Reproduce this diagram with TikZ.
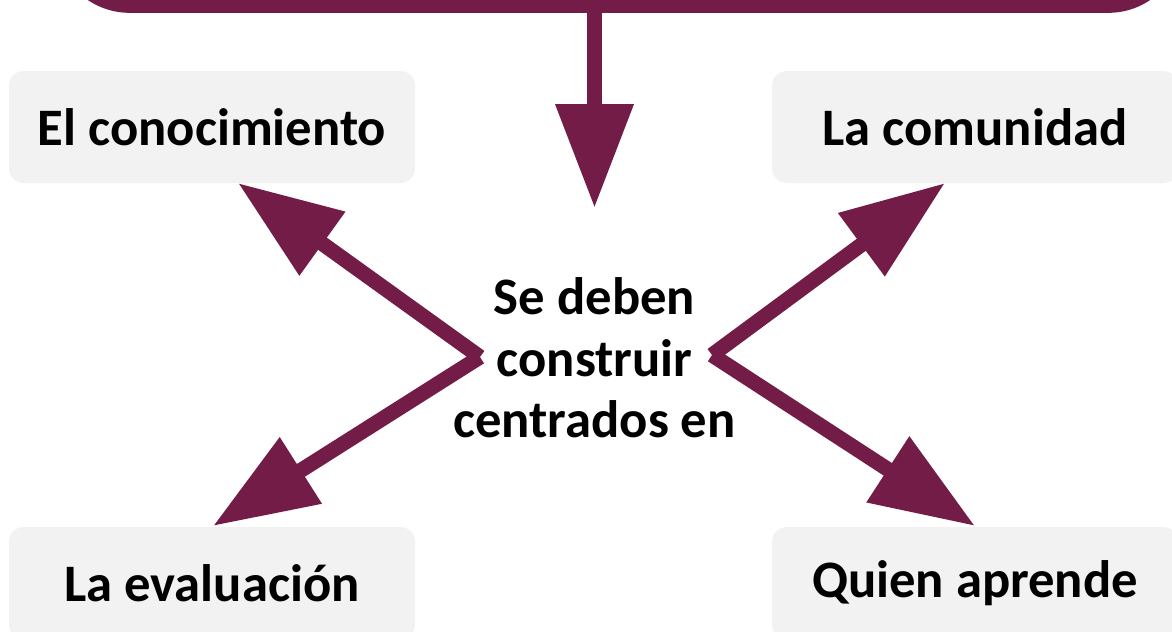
\documentclass[tikz,border=0pt]{standalone}
\usepackage{fontspec}
\setmainfont{Carlito}
\usetikzlibrary{arrows.meta}
\definecolor{maroon}{HTML}{731C47}
\definecolor{boxgray}{HTML}{F2F2F2}
\tikzset{
  lbl/.style={font=\fontsize{39.5}{46}\selectfont\bfseries, text=black},
  graybox/.style={fill=boxgray, draw=none, rounded corners=11pt, minimum width=304.5pt, minimum height=84pt, lbl},
  topbox/.style={fill=maroon, draw=none, rounded corners=56pt},
  conn/.style={draw=maroon, line width=11.25pt, -{Triangle[length=78pt, width=56pt]}, fill=maroon}
}
\begin{document}
\begin{tikzpicture}[x=0.75pt, y=-0.75pt]
\useasboundingbox (0,0) rectangle (1172,632);
\clip (0,0) rectangle (1172,632);
\node[topbox, minimum width=846pt, minimum height=122pt, inner sep=0pt] (top) at (619,-68.5) {};
\node[graybox] (con) at (212,127) {El conocimiento};
\node[graybox] (com) at (975,127) {La comunidad};
\node[graybox] (eva) at (212,583) {La evaluación};
\node[graybox] (qui) at (975,583) {Quien aprende};
\node[lbl, align=center, inner sep=0pt] (mid) at (594.5,358) {Se deben\\construir\\centrados en};
\coordinate (stemtop) at (594.5,10);
\coordinate (stemtip) at (594.5,208);
\coordinate (lv) at (480,357);
\coordinate (rv) at (712,355);
\coordinate (ul) at (238,183);
\coordinate (ll) at (213,526);
\coordinate (ur) at (945,183);
\coordinate (lr) at (975,526);
\draw[conn] (stemtop) -- (stemtip);
\draw[conn] (lv) -- (ul);
\draw[conn] (lv) -- (ll);
\draw[conn] (rv) -- (ur);
\draw[conn] (rv) -- (lr);
\end{tikzpicture}
\end{document}
